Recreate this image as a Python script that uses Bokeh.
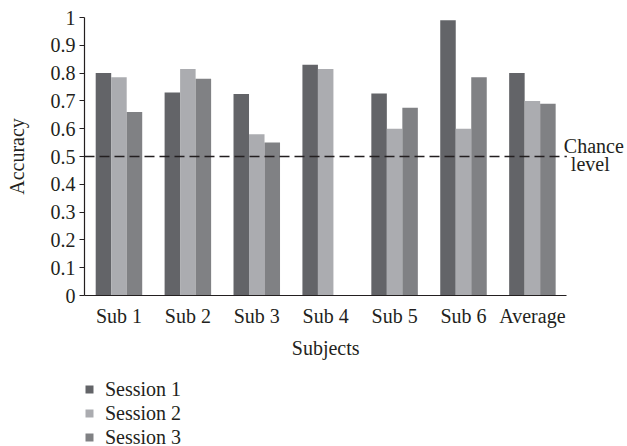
from bokeh.plotting import figure
from bokeh.layouts import column
from bokeh.models import (ColumnDataSource, Range1d, Label, Legend, LegendItem, FixedTicker)
from bokeh.embed import file_html
from bokeh.resources import INLINE

categories = ["Sub 1", "Sub 2", "Sub 3", "Sub 4", "Sub 5", "Sub 6", "Average"]
session1 = [0.80, 0.73, 0.725, 0.83, 0.727, 0.99, 0.80]
session2 = [0.785, 0.815, 0.58, 0.815, 0.60, 0.60, 0.70]
session3 = [0.66, 0.78, 0.55, 0.0, 0.675, 0.785, 0.69]
series_names = ["Session 1", "Session 2", "Session 3"]
chance_level = 0.5
y_ticks = [0, 0.1, 0.2, 0.3, 0.4, 0.5, 0.6, 0.7, 0.8, 0.9, 1.0]
y_tick_labels = ["0", "0.1", "0.2", "0.3", "0.4", "0.5", "0.6", "0.7", "0.8", "0.9", "1"]

colors = ["#636468", "#abacb0", "#808184"]
FONT = "Liberation Serif"
FS = "20px"
TXT = "#231f20"

n = len(categories)
centers = [i + 0.5 for i in range(n)]
xr = Range1d(0, n + 0.88)

# ---------------- main chart ----------------
p = figure(width=627, height=332, x_range=xr, y_range=Range1d(0, 1.0),
           output_backend="svg", toolbar_location=None,
           min_border_left=84, min_border_right=0, min_border_top=17,
           min_border_bottom=37)
p.outline_line_color = None
p.xgrid.grid_line_color = None
p.ygrid.grid_line_color = None

bw = 0.225
offs = [-bw, 0.0, bw]
for vals, off, c in zip([session1, session2, session3], offs, colors):
    src = ColumnDataSource(dict(x=[cx + off for cx in centers], top=vals))
    p.vbar(x="x", top="top", width=bw, source=src, fill_color=c, line_color=None)

p.segment(x0=[0], x1=[n], y0=[chance_level], y1=[chance_level], line_color=TXT,
          line_width=1.3, line_dash="10 5")

p.add_layout(Label(x=n, y=chance_level, x_offset=-3, y_offset=11, text="Chance",
                   text_font=FONT, text_font_size=FS, text_color=TXT,
                   text_baseline="middle", text_align="left"))
p.add_layout(Label(x=n, y=chance_level, x_offset=4, y_offset=-7, text="level",
                   text_font=FONT, text_font_size=FS, text_color=TXT,
                   text_baseline="middle", text_align="left"))

p.yaxis.ticker = FixedTicker(ticks=y_ticks)
p.yaxis.major_label_overrides = {t: l for t, l in zip(y_ticks, y_tick_labels)}
p.yaxis.minor_tick_line_color = None
p.yaxis.major_tick_out = 5
p.yaxis.major_tick_in = 0
p.yaxis.major_tick_line_color = TXT
p.yaxis.major_label_standoff = 4
p.yaxis.axis_label = "Accuracy"
p.yaxis.axis_label_standoff = 20
p.yaxis.axis_line_color = TXT
p.yaxis.axis_line_width = 1.2

p.xaxis.ticker = FixedTicker(ticks=centers)
p.xaxis.major_label_overrides = {c: l for c, l in zip(centers, categories)}
p.xaxis.bounds = (0, n)
p.xaxis.major_tick_line_color = None
p.xaxis.minor_tick_line_color = None
p.xaxis.axis_line_color = TXT
p.xaxis.axis_line_width = 1.2
p.xaxis.major_label_standoff = 3

for ax in (p.xaxis, p.yaxis):
    ax.major_label_text_font = FONT
    ax.major_label_text_font_size = FS
    ax.major_label_text_color = TXT
    ax.axis_label_text_font = FONT
    ax.axis_label_text_font_size = FS
    ax.axis_label_text_font_style = "normal"
    ax.axis_label_text_color = TXT

# ---------------- x-axis title and legend strip ----------------
p2 = figure(width=627, height=114, x_range=xr, y_range=Range1d(0, 1),
            output_backend="svg", toolbar_location=None,
            min_border_left=84, min_border_right=0, min_border_top=0,
            min_border_bottom=0, x_axis_location=None, y_axis_location=None)
p2.outline_line_color = None
p2.xgrid.grid_line_color = None
p2.ygrid.grid_line_color = None

p2.text(x=[n / 2], y=[1], text=["Subjects"], y_offset=15, text_font=FONT,
        text_font_size=FS, text_color=TXT, text_align="center", text_baseline="middle")

# zero-height proxies so the legend can draw its swatches
proxies = [p2.vbar(x=[0], top=[0], width=0.01, fill_color=c, line_color=None) for c in colors]
legend = Legend(items=[LegendItem(label=nm, renderers=[r]) for nm, r in zip(series_names, proxies)],
                location=(0, -3), orientation="vertical",
                glyph_width=10, glyph_height=10, label_height=24, spacing=0,
                label_standoff=11, padding=0, margin=0,
                border_line_color=None, background_fill_alpha=0,
                label_text_font=FONT, label_text_font_size=FS,
                label_text_color=TXT)
p2.add_layout(legend, "center")

layout = column(p, p2, spacing=0)
open("out.html", "w").write(file_html(layout, INLINE))
